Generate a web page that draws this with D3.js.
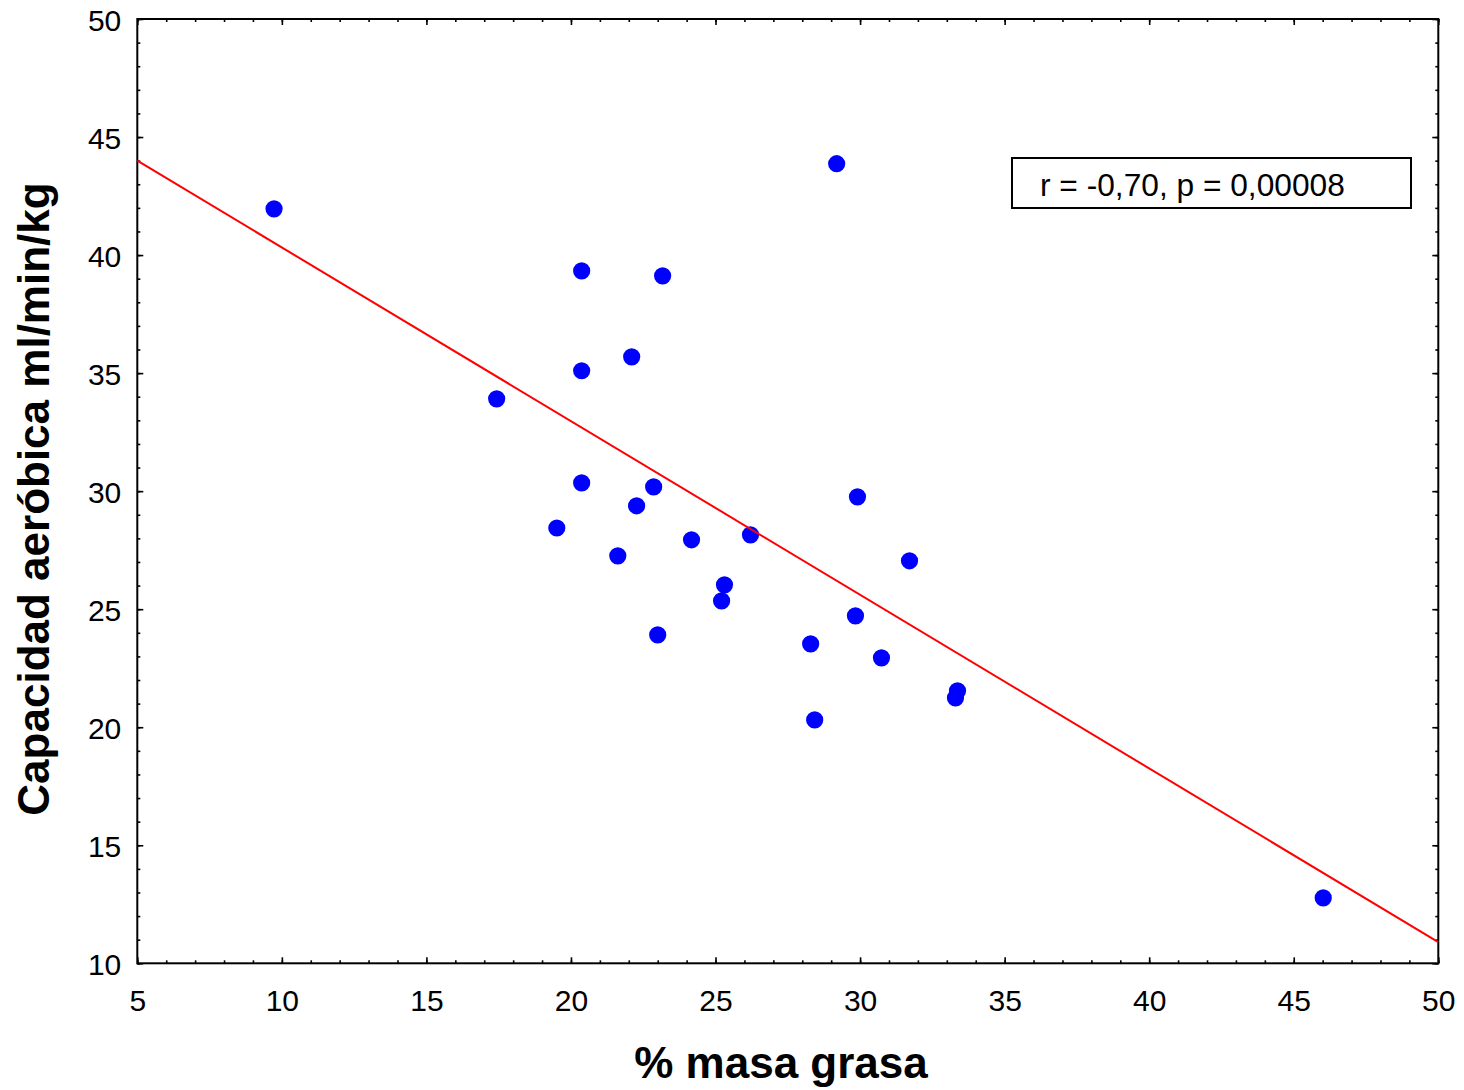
<!DOCTYPE html>
<html><head><meta charset="utf-8">
<script src="https://cdn.jsdelivr.net/npm/d3@7"></script>
<style>body{margin:0;background:#fff;} svg{display:block;}</style>
</head><body>
<svg id="c" width="1464" height="1090"></svg>
<script>
const xValues = [9.73, 29.19, 20.37, 23.17, 22.1, 20.37, 17.43, 20.37, 22.86, 29.91, 22.27, 19.51, 24.17, 26.21, 21.62, 31.71, 25.31, 25.21, 29.84, 23.0, 28.29, 30.74, 33.37, 33.3, 28.43, 46.02];
const yValues = [41.96, 43.87, 39.33, 39.12, 35.69, 35.1, 33.91, 30.35, 30.18, 29.76, 29.38, 28.44, 27.94, 28.15, 27.26, 27.05, 26.03, 25.35, 24.72, 23.91, 23.53, 22.94, 21.54, 21.24, 20.31, 12.77];
const fitX = [5, 50];
const fitY = [44.0, 10.9];
const xTicks = [5, 10, 15, 20, 25, 30, 35, 40, 45, 50];
const yTicks = [10, 15, 20, 25, 30, 35, 40, 45, 50];
const xLabel = "% masa grasa";
const yLabel = "Capacidad aeróbica ml/min/kg";
const annotation = "r = -0,70, p = 0,00008";

const L = 137.3, R = 1438.3, T = 19, B = 963.3;
const svg = d3.select("#c");
const x = d3.scaleLinear().domain([5, 50]).range([L, R]);
const y = d3.scaleLinear().domain([10, 50]).range([B, T]);
const font = "'Liberation Sans', Arial, sans-serif";

const minorX = d3.range(5, 51, 1), minorY = d3.range(10, 51, 1);
const g = svg.append("g");
function tickAxis(axisGen, tr, size, vals) {
  const a = g.append("g").attr("transform", tr).call(axisGen.tickValues(vals).tickSize(size).tickFormat(""));
  a.select(".domain").remove();
  a.selectAll("line").attr("stroke", "#000").attr("stroke-width", 1.6);
}
tickAxis(d3.axisTop(x), `translate(0,${B})`, 3, minorX);
tickAxis(d3.axisTop(x), `translate(0,${B})`, 6, xTicks);
tickAxis(d3.axisBottom(x), `translate(0,${T})`, 3, minorX);
tickAxis(d3.axisBottom(x), `translate(0,${T})`, 6, xTicks);
tickAxis(d3.axisRight(y), `translate(${L},0)`, 3, minorY);
tickAxis(d3.axisRight(y), `translate(${L},0)`, 6, yTicks);
tickAxis(d3.axisLeft(y), `translate(${R},0)`, 3, minorY);
tickAxis(d3.axisLeft(y), `translate(${R},0)`, 6, yTicks);

svg.append("rect").attr("x", L).attr("y", T).attr("width", R - L).attr("height", B - T)
  .attr("fill", "none").attr("stroke", "#000").attr("stroke-width", 2);

const xl = svg.append("g").attr("transform", `translate(0,${B})`)
  .call(d3.axisBottom(x).tickValues(xTicks).tickSize(0).tickPadding(26).tickFormat(d3.format("d")));
xl.select(".domain").remove();
xl.selectAll("text").attr("font-family", font).attr("font-size", 30).attr("fill", "#000");
const yl = svg.append("g").attr("transform", `translate(${L},0)`)
  .call(d3.axisLeft(y).tickValues(yTicks).tickSize(0).tickPadding(16).tickFormat(d3.format("d")));
yl.select(".domain").remove();
yl.selectAll("text").attr("font-family", font).attr("font-size", 30).attr("fill", "#000").attr("dy", "0.38em");

const data = xValues.map((v, i) => ({x: v, y: yValues[i]}));
svg.append("g").selectAll("circle").data(data).join("circle")
  .attr("cx", d => x(d.x)).attr("cy", d => y(d.y)).attr("r", 8.6).attr("fill", "#0000ff");

svg.append("path").datum(fitX.map((v, i) => [v, fitY[i]]))
  .attr("d", d3.line().x(d => x(d[0])).y(d => y(d[1])))
  .attr("stroke", "#ff0000").attr("stroke-width", 2).attr("fill", "none");

svg.append("rect").attr("x", 1012).attr("y", 158).attr("width", 399).attr("height", 50)
  .attr("fill", "#fff").attr("stroke", "#000").attr("stroke-width", 2);
svg.append("text").attr("x", 1040).attr("y", 196).attr("font-family", font).attr("font-size", 31.7)
  .text(annotation);

svg.append("text").attr("x", 781).attr("y", 1078).attr("text-anchor", "middle")
  .attr("font-family", font).attr("font-size", 44).attr("font-weight", "bold").text(xLabel);
svg.append("text").attr("transform", `translate(49,499) rotate(-90)`).attr("text-anchor", "middle")
  .attr("font-family", font).attr("font-size", 44).attr("font-weight", "bold").text(yLabel);
</script>
</body></html>
